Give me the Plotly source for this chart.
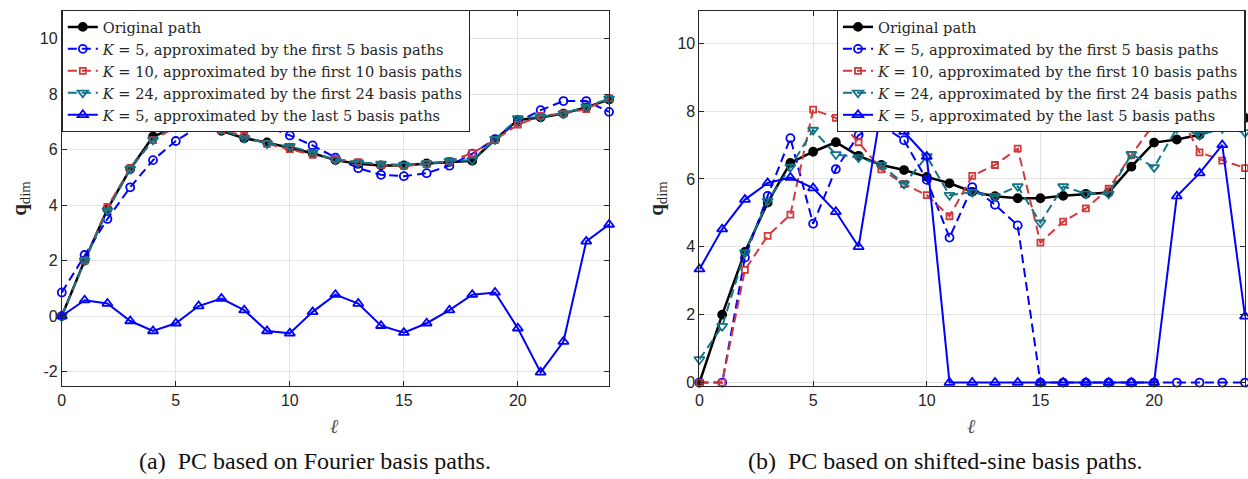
import plotly.graph_objects as go

W, H = 1248, 479


def fx(px):
    return px / W


def fy(py):
    return 1 - py / H


ell = list(range(25))

# Original path (same in both panels)
original_path = [0.0, 2.0, 3.85, 5.3, 6.47, 6.8, 7.08, 6.68, 6.41, 6.26, 6.06, 5.87, 5.62,
                 5.49, 5.43, 5.43, 5.5, 5.56, 5.6, 6.36, 7.07, 7.16, 7.3, 7.52, 7.8]

# (a) Fourier basis paths
a_k5_first = [0.85, 2.2, 3.5, 4.64, 5.62, 6.31, 6.82, 7.06, 7.05, 6.84, 6.51, 6.15, 5.71,
              5.33, 5.09, 5.04, 5.15, 5.42, 5.85, 6.38, 7.0, 7.42, 7.75, 7.75, 7.36]
a_k10_first = [0.0, 2.0, 3.93, 5.33, 6.34, 6.82, 6.97, 6.7, 6.5, 6.21, 6.02, 5.81, 5.66,
               5.55, 5.45, 5.41, 5.48, 5.58, 5.87, 6.35, 6.9, 7.21, 7.3, 7.46, 7.85]
a_k24_first = [0.0, 2.0, 3.8, 5.3, 6.35, 6.92, 7.0, 6.72, 6.42, 6.22, 6.12, 5.9, 5.63,
               5.53, 5.48, 5.45, 5.5, 5.58, 5.62, 6.38, 7.12, 7.18, 7.3, 7.55, 7.83]
a_k5_last = [0.0, 0.57, 0.45, -0.18, -0.54, -0.26, 0.36, 0.63, 0.21, -0.54, -0.62, 0.15, 0.77,
             0.45, -0.35, -0.6, -0.26, 0.21, 0.77, 0.85, -0.44, -2.03, -0.92, 2.69, 3.3]

# (b) shifted-sine basis paths
b_k5_first = [0.0, 0.0, 3.68, 5.5, 7.2, 4.68, 6.29, 7.29, 7.58, 7.14, 5.97, 4.27, 5.76,
              5.24, 4.63, 0.0, 0.0, 0.0, 0.0, 0.0, 0.0, 0.0, 0.0, 0.0, 0.0]
b_k10_first = [0.0, 0.0, 3.32, 4.32, 4.95, 8.04, 7.8, 7.08, 6.28, 5.85, 5.52, 4.9, 6.09,
               6.41, 6.89, 4.12, 4.74, 5.13, 5.71, 6.7, 7.63, 8.05, 6.78, 6.54, 6.32]
b_k24_first = [0.68, 1.66, 3.83, 5.35, 6.35, 7.44, 6.72, 6.63, 6.41, 5.85, 6.66, 5.52, 5.61,
               5.49, 5.78, 4.71, 5.78, 5.56, 5.56, 6.73, 6.34, 7.49, 7.29, 7.49, 7.37]
b_k5_last = [3.34, 4.52, 5.39, 5.88, 6.04, 5.73, 5.03, 4.0, 8.08, 7.39, 6.66, 0.0, 0.0,
             0.0, 0.0, 0.0, 0.0, 0.0, 0.0, 0.0, 0.0, 5.49, 6.17, 7.0, 1.95]

names = [
    "Original path",
    "<i>K</i> = 5, approximated by the first 5 basis paths",
    "<i>K</i> = 10, approximated by the first 10 basis paths",
    "<i>K</i> = 24, approximated by the first 24 basis paths",
    "<i>K</i> = 5, approximated by the last 5 basis paths",
]

BLACK = "#000000"
BLUE = "#0000ff"
RED = "#d23a3a"
TEAL = "#127486"
DASH = "9px,5px"

styles = [
    dict(color=BLACK, dash="solid", symbol="circle", size=8, lw=2.5),
    dict(color=BLUE, dash=DASH, symbol="circle-open", size=8, lw=2),
    dict(color=RED, dash=DASH, symbol="square-open", size=6, lw=2),
    dict(color=TEAL, dash=DASH, symbol="triangle-down-open", size=9, lw=2),
    dict(color=BLUE, dash="solid", symbol="triangle-up-open", size=9, lw=2),
]

fig = go.Figure()

panels = [
    ("x", "y", "legend", [original_path, a_k5_first, a_k10_first, a_k24_first, a_k5_last]),
    ("x2", "y2", "legend2", [original_path, b_k5_first, b_k10_first, b_k24_first, b_k5_last]),
]

for xa, ya, lg, series in panels:
    for name, vals, st in zip(names, series, styles):
        fig.add_trace(go.Scatter(
            x=ell, y=vals, name=name, mode="lines+markers",
            xaxis=xa, yaxis=ya, legend=lg, cliponaxis=False,
            line=dict(color=st["color"], width=st["lw"], dash=st["dash"]),
            marker=dict(symbol=st["symbol"], size=st["size"], color=st["color"],
                        line=dict(color=st["color"], width=1.8)),
        ))

AX = "#262626"
GRID = "#e3e3e3"
tickfont = dict(family="Liberation Sans, Arial, sans-serif", size=16, color=AX)

ydom = [fy(390), fy(11)]
common_x = dict(range=[0, 24], tickvals=[0, 5, 10, 15, 20], ticktext=["0", "5", "10", "15", "20"],
                showgrid=True, gridcolor=GRID, gridwidth=1, zeroline=False,
                showline=True, linecolor=AX, linewidth=1, mirror="ticks",
                ticks="inside", ticklen=5, tickcolor=AX, tickfont=tickfont)
common_y = dict(showgrid=True, gridcolor=GRID, gridwidth=1, zeroline=False,
                showline=True, linecolor=AX, linewidth=1, mirror="ticks",
                ticks="inside", ticklen=5, tickcolor=AX, tickfont=tickfont, domain=ydom)

legend_common = dict(xanchor="left", yanchor="top", bgcolor="white", bordercolor=AX,
                     borderwidth=1, tracegroupgap=0,
                     font=dict(family="DejaVu Serif, serif", size=14.6, color=AX))

fig.update_layout(
    width=W, height=H,
    margin=dict(l=0, r=0, t=0, b=0),
    paper_bgcolor="white", plot_bgcolor="white",
    xaxis=dict(domain=[fx(58), fx(607)], anchor="y", **common_x),
    yaxis=dict(anchor="x", range=[-2.52, 11.0], tickvals=[-2, 0, 2, 4, 6, 8, 10],
               ticktext=["-2", "0", "2", "4", "6", "8", "10"], **common_y),
    xaxis2=dict(domain=[fx(697.7), fx(1245)], anchor="y2", **common_x),
    yaxis2=dict(anchor="x2", range=[-0.1, 10.95], tickvals=[0, 2, 4, 6, 8, 10],
                ticktext=["0", "2", "4", "6", "8", "10"], **common_y),
    legend=dict(x=fx(58), y=fy(10), **legend_common),
    legend2=dict(x=fx(835.7), y=fy(10), **legend_common),
    showlegend=True,
)

serif = "Liberation Serif, Times New Roman, serif"
ann = []
# y-axis labels
for xp in (16, 655):
    ann.append(dict(text="<b>q</b><sub>dim</sub>", x=fx(xp), y=fy(200), xref="paper", yref="paper",
                    showarrow=False, textangle=-90, xanchor="center", yanchor="middle",
                    font=dict(family=serif, size=21, color=AX)))
# x-axis labels
for xp in (332, 971):
    ann.append(dict(text="<i>ℓ</i>", x=fx(xp), y=fy(430), xref="paper", yref="paper",
                    showarrow=False, xanchor="center", yanchor="middle",
                    font=dict(family=serif, size=20, color="#555555")))
# captions
captions = [("(a)\u00a0\u00a0PC based on Fourier basis paths.", 312),
            ("(b)\u00a0\u00a0PC based on shifted-sine basis paths.", 945)]
for txt, xp in captions:
    ann.append(dict(text=txt, x=fx(xp), y=fy(466), xref="paper", yref="paper",
                    showarrow=False, xanchor="center", yanchor="middle",
                    font=dict(family=serif, size=24, color="#111111")))
fig.update_layout(annotations=ann)

fig.write_html(
    "out.html",
    config={"displayModeBar": False},
    post_script="document.body.style.margin='0';document.body.style.overflow='hidden';",
)
